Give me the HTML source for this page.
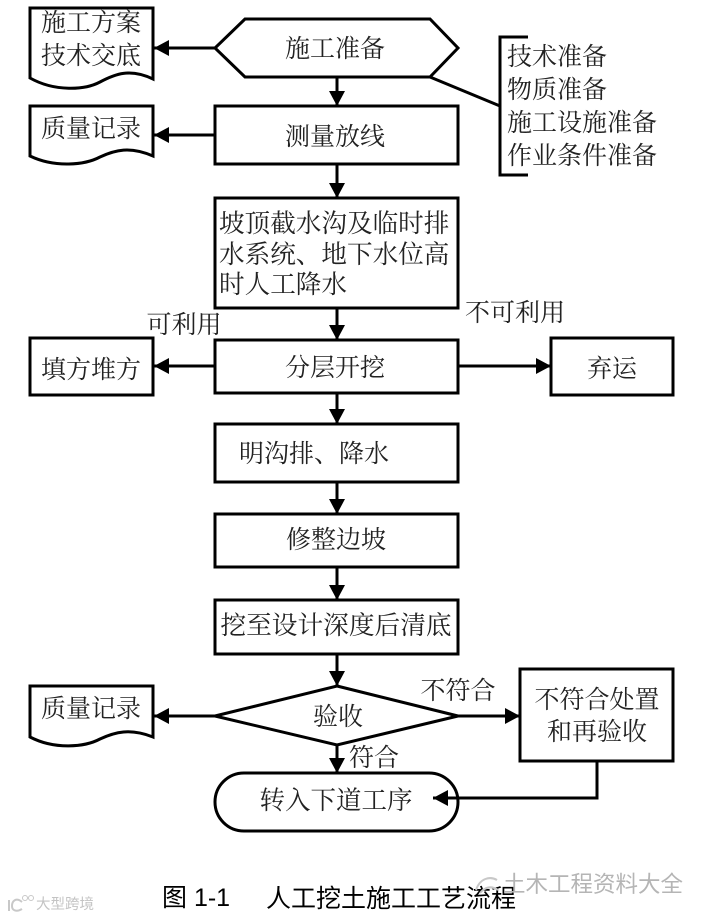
<!DOCTYPE html>
<html><head><meta charset="utf-8"><style>
html,body{margin:0;padding:0;background:#fff;width:707px;height:919px;overflow:hidden}
svg{display:block}
text{font-family:"Noto Serif CJK SC","Liberation Serif",serif;font-size:25px;fill:#222;text-anchor:middle}
.l{text-anchor:start}
.s{font-family:"Liberation Sans","Noto Sans CJK SC",sans-serif;fill:#000}
</style></head><body>
<svg width="707" height="919" viewBox="0 0 707 919" xmlns="http://www.w3.org/2000/svg">
<defs>
<marker id="a" markerUnits="userSpaceOnUse" markerWidth="16" markerHeight="18" refX="15" refY="8" orient="auto"><path d="M0,0L15,8L0,16Z" fill="#000"/></marker>
</defs>
<g fill="none" stroke="#000" stroke-width="3">
<path d="M30,8H153V79C130,68 115,74 100,82C85,90 55,92 30,78Z"/>
<path d="M30,106H153V156C130,146 115,150 100,157C85,165 55,168 30,156Z"/>
<path d="M30,686H153V737C130,728 115,732 100,739C85,747 55,750 30,737Z"/>
<path d="M245,19H430L458,48L430,77H245L215,48Z" fill="#fff"/>
<rect x="215" y="106" width="243" height="58"/>
<rect x="215" y="198" width="243" height="110"/>
<rect x="215" y="340" width="243" height="53"/>
<rect x="215" y="424" width="243" height="58"/>
<rect x="215" y="514" width="243" height="53"/>
<rect x="215" y="600" width="243" height="54"/>
<rect x="30" y="338" width="123" height="57"/>
<rect x="551" y="338" width="122" height="57"/>
<rect x="520" y="669" width="153" height="92"/>
<path d="M337,686L458,716L337,745L215,716Z"/>
<rect x="215" y="773" width="243" height="58" rx="29" ry="29"/>
<path d="M528,37H500V175H528"/>
<path d="M430,77L500,106"/>
<path d="M215,48H154" marker-end="url(#a)"/>
<path d="M215,135H154" marker-end="url(#a)"/>
<path d="M215,366H154" marker-end="url(#a)"/>
<path d="M458,366H551" marker-end="url(#a)"/>
<path d="M215,716H154" marker-end="url(#a)"/>
<path d="M458,716H520" marker-end="url(#a)"/>
<path d="M337,77V106" marker-end="url(#a)"/>
<path d="M337,164V198" marker-end="url(#a)"/>
<path d="M337,308V340" marker-end="url(#a)"/>
<path d="M337,393V424" marker-end="url(#a)"/>
<path d="M337,482V514" marker-end="url(#a)"/>
<path d="M337,567V600" marker-end="url(#a)"/>
<path d="M337,654V686" marker-end="url(#a)"/>
<path d="M337,745V773" marker-end="url(#a)"/>
<path d="M597,761V798H433" marker-end="url(#a)"/>
</g>
<text x="91" y="31">施工方案</text>
<text x="91" y="64">技术交底</text>
<text x="91" y="137">质量记录</text>
<text x="91" y="378">填方堆方</text>
<text x="91" y="717">质量记录</text>
<text x="335" y="57">施工准备</text>
<text x="335" y="145">测量放线</text>
<text class="l" x="219" y="232" style="font-size:25.6px">坡顶截水沟及临时排</text>
<text class="l" x="219" y="263" style="font-size:25.6px">水系统、地下水位高</text>
<text class="l" x="219" y="293" style="font-size:25.6px">时人工降水</text>
<text x="335" y="376">分层开挖</text>
<text x="314" y="462">明沟排、降水</text>
<text x="336" y="548">修整边坡</text>
<text x="336" y="634" style="font-size:25.7px">挖至设计深度后清底</text>
<text x="338" y="725">验收</text>
<text x="336" y="809" style="font-size:25.5px">转入下道工序</text>
<text class="l" x="507" y="65">技术准备</text>
<text class="l" x="507" y="98">物质准备</text>
<text class="l" x="507" y="131">施工设施准备</text>
<text class="l" x="507" y="164">作业条件准备</text>
<text x="184" y="333">可利用</text>
<text x="515" y="321">不可利用</text>
<text x="612" y="377">弃运</text>
<text x="458" y="699">不符合</text>
<text x="597" y="708">不符合处置</text>
<text x="597" y="740">和再验收</text>
<text x="374" y="766">符合</text>
<text class="l s" x="162" y="906" style="font-size:25px">图 1-1</text>
<text class="l s" x="266" y="907" style="font-size:25px">人工挖土施工工艺流程</text>
<text class="l s" x="503" y="892" style="font-size:22.5px;fill:#b5b5b5">土木工程资料大全</text>
<path d="M476,890C480,878 490,876 497,880M480,893C486,886 492,886 498,890" fill="none" stroke="#c8c8c8" stroke-width="2"/>
<text class="l s" x="36" y="909" style="font-size:14.5px;fill:#c4c4c4">大型跨境</text>
<path d="M9,900V911M22,902C16,897 12,901 12,906C12,911 17,912 22,909" fill="none" stroke="#c8c8c8" stroke-width="2"/>
<circle cx="25" cy="898" r="2.5" fill="none" stroke="#c8c8c8"/><circle cx="31" cy="898" r="2.5" fill="none" stroke="#c8c8c8"/>
</svg>
</body></html>
